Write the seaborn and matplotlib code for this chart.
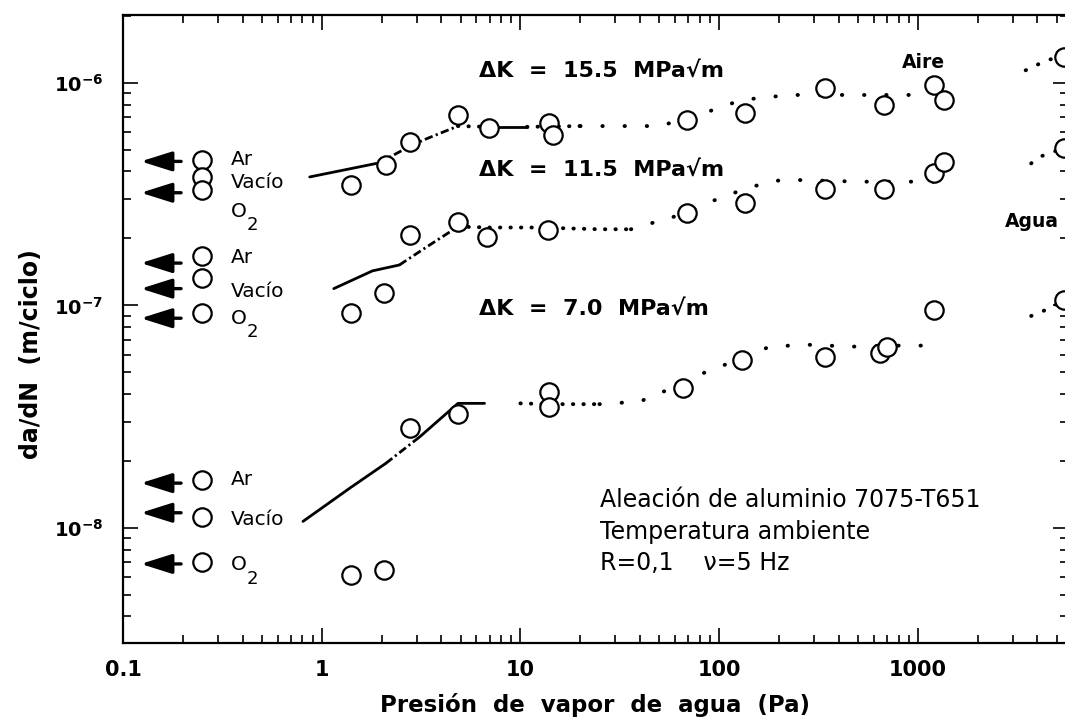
import numpy as np
import pandas as pd
import seaborn as sns
import matplotlib.pyplot as plt
from matplotlib.ticker import FixedLocator, FixedFormatter, LogLocator, NullFormatter

# open circles: pressure (Pa) and da/dN (m/ciclo)
k155Pressure = [1.40, 2.10, 2.78, 4.85, 6.95, 14.0, 14.6, 68.8, 135, 341, 676, 1200, 1355, 5440]
k155Rate = [3.48e-7, 4.28e-7, 5.44e-7, 7.18e-7, 6.28e-7, 6.6e-7, 5.84e-7, 6.82e-7, 7.33e-7, 9.5e-7, 7.96e-7, 9.8e-7, 8.39e-7, 1.31e-6]
k115Pressure = [1.40, 2.05, 2.78, 4.85, 6.78, 13.7, 68.8, 135, 341, 676, 1200, 1355, 5440]
k115Rate = [9.24e-8, 1.14e-7, 2.07e-7, 2.37e-7, 2.03e-7, 2.18e-7, 2.60e-7, 2.89e-7, 3.34e-7, 3.34e-7, 3.94e-7, 4.42e-7, 5.1e-7]
k70Pressure = [1.40, 2.05, 2.78, 4.85, 14.0, 14.0, 66, 130, 341, 645, 700, 1200, 5440]
k70Rate = [6.15e-9, 6.47e-9, 2.81e-8, 3.25e-8, 4.1e-8, 3.51e-8, 4.25e-8, 5.69e-8, 5.89e-8, 6.12e-8, 6.53e-8, 9.55e-8, 1.06e-7]

# reference environments drawn at the left (Ar, vacio, O2 for each delta K)
gasPressure = [0.25] * 9
gasRate = [4.51e-7, 3.79e-7, 3.31e-7, 1.66e-7, 1.33e-7, 9.22e-8, 1.64e-8, 1.12e-8, 7.06e-9]
gasNames = ['Ar', 'Vacío', 'O', 'Ar', 'Vacío', 'O', 'Ar', 'Vacío', 'O']
gasLabelRate = [4.51e-7, 3.56e-7, 2.65e-7, 1.64e-7, 1.16e-7, 8.74e-8, 1.65e-8, 1.09e-8, 6.82e-9]
arrowRate = [4.44e-7, 3.21e-7, 1.55e-7, 1.19e-7, 8.76e-8, 1.59e-8, 1.17e-8, 6.89e-9]

# trend curves
k155LineX = [0.87, 1.4, 1.94, 2.6, 3.25, 4.85, 6.95, 10.8, 20, 35, 50, 79, 130, 227, 420, 990]
k155LineY = [3.78e-7, 4.12e-7, 4.37e-7, 5.03e-7, 5.54e-7, 6.4e-7, 6.35e-7, 6.35e-7, 6.4e-7, 6.4e-7, 6.4e-7, 7.18e-7, 8.39e-7, 8.83e-7, 8.83e-7, 8.83e-7]
k155WaterX = [3490, 4500, 5440]
k155WaterY = [1.14e-6, 1.27e-6, 1.31e-6]
k115LineX = [1.15, 1.8, 2.46, 3.4, 4.85, 7, 12.1, 25, 36, 51.7, 68.8, 91, 124, 158, 204, 260, 500, 820, 1110, 1400]
k115LineY = [1.19e-7, 1.43e-7, 1.52e-7, 1.84e-7, 2.26e-7, 2.24e-7, 2.24e-7, 2.2e-7, 2.2e-7, 2.42e-7, 2.6e-7, 2.93e-7, 3.25e-7, 3.48e-7, 3.66e-7, 3.66e-7, 3.6e-7, 3.6e-7, 3.6e-7, 3.6e-7]
k115WaterX = [3720, 4140, 5440]
k115WaterY = [4.35e-7, 4.67e-7, 5.1e-7]
k70LowX = [0.805, 1.4, 2.1, 3.12, 4.85, 6.6]
k70LowY = [1.07e-8, 1.52e-8, 1.95e-8, 2.57e-8, 3.63e-8, 3.63e-8]
k70LineX = [10, 14, 25, 40, 49.8, 65, 82.6, 115, 180, 277, 468, 820, 1230]
k70LineY = [3.63e-8, 3.6e-8, 3.6e-8, 3.7e-8, 4.03e-8, 4.4e-8, 4.95e-8, 5.55e-8, 6.53e-8, 6.66e-8, 6.53e-8, 6.6e-8, 6.6e-8]
k70WaterX = [3720, 4600, 5440]
k70WaterY = [8.97e-8, 9.7e-8, 1.06e-7]

xTicks = [0.1, 1, 10, 100, 1000]
xTickLabels = ['0.1', '1', '10', '100', '1000']
yTicks = [1e-8, 1e-7, 1e-6]
yTickLabels = [r'$\mathbf{10^{-8}}$', r'$\mathbf{10^{-7}}$', r'$\mathbf{10^{-6}}$']

sns.set_style('ticks')
plt.rcParams['font.family'] = ['DejaVu Sans']
plt.rcParams['mathtext.fontset'] = 'dejavusans'
plt.rcParams['text.color'] = 'black'
plt.rcParams['axes.labelcolor'] = 'black'
plt.rcParams['xtick.color'] = 'black'
plt.rcParams['ytick.color'] = 'black'

fig = plt.figure(figsize=(10.65, 7.24), dpi=100)
ax = fig.add_axes([123 / 1065, 81 / 724, 945 / 1065, 628 / 724])
ax.set_xscale('log')
ax.set_yscale('log')

lineStyles = {
    'solid': dict(linestyle='-', lw=2.0),
    'dashdot': dict(linestyle=(0, (3, 1.2, 0.8, 1.2)), lw=2.0),
    'dense': dict(linestyle=(0, (0.1, 2.6)), lw=2.8, dash_capstyle='round'),
    'medium': dict(linestyle=(0, (0.1, 3.4)), lw=2.8, dash_capstyle='round'),
    'sparse': dict(linestyle=(0, (0.1, 5.6)), lw=2.8, dash_capstyle='round'),
}

def drawPieces(xs, ys, pieces):
    xs = np.array(xs)
    ys = np.array(ys)
    for x0, x1, style in pieces:
        mask = (xs >= x0) & (xs <= x1)
        ax.plot(xs[mask], ys[mask], color='black', zorder=2, **lineStyles[style])

drawPieces(k155LineX, k155LineY, [(0.87, 1.94, 'solid'), (1.94, 4.85, 'dashdot'), (4.85, 6.95, 'dense'),
                                  (6.95, 10.8, 'solid'), (10.8, 20, 'dense'), (20, 990, 'sparse')])
drawPieces(k155WaterX, k155WaterY, [(3490, 5440, 'medium')])
drawPieces(k115LineX, k115LineY, [(1.15, 2.46, 'solid'), (2.46, 4.85, 'dashdot'), (4.85, 36, 'dense'),
                                  (36, 1400, 'sparse')])
drawPieces(k115WaterX, k115WaterY, [(3720, 5440, 'medium')])
drawPieces(k70LowX, k70LowY, [(0.805, 2.1, 'solid'), (2.1, 3.12, 'dashdot'), (3.12, 6.6, 'solid')])
drawPieces(k70LineX, k70LineY, [(10, 25, 'dense'), (25, 1230, 'sparse')])
drawPieces(k70WaterX, k70WaterY, [(3720, 5440, 'medium')])

circles = pd.DataFrame({
    'Pa': k155Pressure + k115Pressure + k70Pressure + gasPressure,
    'rate': k155Rate + k115Rate + k70Rate + gasRate,
})
sns.scatterplot(data=circles, x='Pa', y='rate', ax=ax, marker='o', s=175,
                facecolor='white', edgecolor='black', linewidth=1.6, zorder=3, legend=False)

for r in arrowRate:
    ax.annotate('', xy=(0.123, r), xytext=(0.196, r),
                arrowprops=dict(arrowstyle='-|>,head_length=1.9,head_width=0.6', mutation_scale=10,
                                lw=2.4, color='black', shrinkA=0, shrinkB=0))

for name, r in zip(gasNames, gasLabelRate):
    ax.text(0.35, r, name, fontsize=14.5, ha='left', va='center')
    if name == 'O':
        # the subscript of O2 sits low and nearly full size
        ax.annotate('2', xy=(0.35, r), xytext=(11, -10), textcoords='offset points',
                    fontsize=13, ha='left', va='center')

ax.text(6.2, 1.136e-6, 'ΔK  =  15.5  MPa√m', fontsize=16, fontweight='bold', ha='left', va='center')
ax.text(6.2, 4.06e-7, 'ΔK  =  11.5  MPa√m', fontsize=16, fontweight='bold', ha='left', va='center')
ax.text(6.2, 9.69e-8, 'ΔK  =  7.0  MPa√m', fontsize=16, fontweight='bold', ha='left', va='center')
ax.text(1062, 1.24e-6, 'Aire', fontsize=13.5, fontweight='bold', ha='center', va='center')
ax.text(2750, 2.38e-7, 'Agua', fontsize=13.5, fontweight='bold', ha='left', va='center')

ax.text(25.2, 1.243e-8, 'Aleación de aluminio 7075-T651', fontsize=17, ha='left', va='baseline')
ax.text(25.2, 8.92e-9, 'Temperatura ambiente', fontsize=17, ha='left', va='baseline')
ax.text(25.2, 6.47e-9, 'R=0,1    ν=5 Hz', fontsize=17, ha='left', va='baseline')

ax.set_xlim(0.1, 5700)
ax.set_ylim(3.04e-9, 2.02e-6)

ax.xaxis.set_major_locator(FixedLocator(xTicks))
ax.xaxis.set_major_formatter(FixedFormatter(xTickLabels))
ax.yaxis.set_major_locator(FixedLocator(yTicks))
ax.yaxis.set_major_formatter(FixedFormatter(yTickLabels))
for axis in (ax.xaxis, ax.yaxis):
    axis.set_minor_locator(LogLocator(base=10, subs=np.arange(2, 10), numticks=30))
    axis.set_minor_formatter(NullFormatter())

ax.tick_params(which='both', direction='in', top=True, right=True, color='black', width=1.2)
ax.tick_params(which='major', length=11)
ax.tick_params(which='minor', length=5.5)
ax.tick_params(axis='x', which='major', labelsize=15, pad=12)
ax.tick_params(axis='y', which='major', labelsize=14, pad=14)
for lab in ax.get_xticklabels():
    lab.set_fontweight('bold')
for spine in ax.spines.values():
    spine.set_linewidth(1.6)
    spine.set_color('black')

ax.set_xlabel('Presión  de  vapor  de  agua  (Pa)', fontsize=16.5, fontweight='bold', va='top')
ax.xaxis.set_label_coords(0.5, -0.08)
ax.set_ylabel('da/dN  (m/ciclo)', fontsize=17, fontweight='bold')
ax.yaxis.set_label_coords(-0.085, 0.46)

fig.savefig('out.png', dpi=100)
